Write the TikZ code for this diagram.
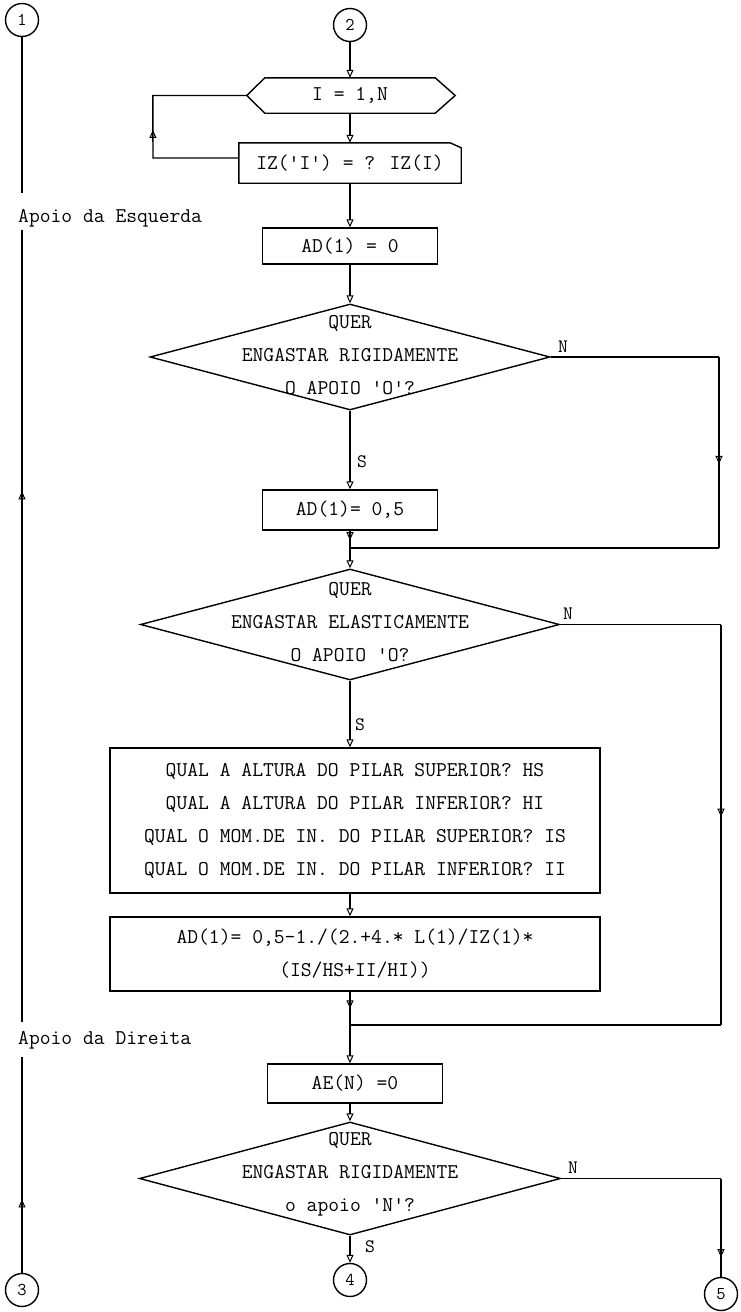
\documentclass[tikz,border=0pt]{standalone}
\usepackage{fontspec}
\usetikzlibrary{arrows.meta,decorations.markings,shapes.geometric}
\tikzset{
  flow/.style={line width=1.4pt},
  endtip/.style={-{Triangle[open,length=8pt,width=7pt,line width=1pt]}},
  midtip/.style={postaction={decorate},decoration={markings,
      mark=at position #1 with {\arrow{Triangle[open,length=8pt,width=7pt,line width=1pt]}}}},
  txt/.style={font=\ttfamily\fontsize{21}{33}\selectfont, inner sep=0pt, align=center},
  lbl/.style={font=\ttfamily\fontsize{19}{19}\selectfont, inner sep=0pt},
  procbox/.style={txt, draw, line width=1.4pt},
  conn/.style={circle, draw, line width=1.4pt, minimum size=33pt, inner sep=0pt,
      font=\ttfamily\fontsize{18}{18}\selectfont},
  decision/.style={diamond, draw, line width=1.4pt, inner sep=0pt, aspect=1},
}
\begin{document}
\begin{tikzpicture}[x=1pt,y=-1pt]
\useasboundingbox (0,0) rectangle (740,1312);
\fill[white] (0,0) rectangle (740,1312);

% off-page connectors
\node[conn] (c1) at (22,20) {1};
\node[conn] (c2) at (350,25) {2};
\node[conn] (c3) at (22,1290) {3};
\node[conn] (c4) at (350,1280) {4};
\node[conn] (c5) at (721,1294) {5};

% loop header (hexagon)
\node[txt, minimum width=170pt, minimum height=35pt] (hex) at (350,95.5) {I = 1,N};
\draw[flow] (hex.north west) -- (hex.north east) -- ([xshift=20pt]hex.east)
  -- (hex.south east) -- (hex.south west) -- ([xshift=-18pt]hex.west) -- cycle;
\coordinate (hexL) at ([xshift=-18pt]hex.west);

% input of the inertia values
\node[txt, minimum width=222pt, minimum height=40pt] (iz) at (350,163) {IZ('I') = ? IZ(I)};
\draw[flow] (iz.north west) -- ([xshift=-11pt]iz.north east) -- ([yshift=-5pt]iz.north east)
  -- (iz.south east) -- (iz.south west) -- cycle;

% loop return
\coordinate (lpb) at (153,158);
\path (hexL) ++(-94,0) coordinate (lpt);
\draw[flow, midtip=0.47] ([yshift=5pt]iz.west) -- (lpb) -- (lpt) -- (hexL);

\draw[flow,endtip] (c2) -- (hex);
\draw[flow,endtip] (hex) -- (iz);

% left support
\node[procbox, minimum width=175pt, minimum height=36pt] (ad0) at (350,246) {AD(1) = 0};
\draw[flow,endtip] (iz) -- (ad0);

\node[decision, minimum width=400pt, minimum height=106pt] (d1) at (350,357) {};
\node[txt] (d1t) at (350,355) {QUER\\ENGASTAR RIGIDAMENTE\\O APOIO 'O'?};
\draw[flow,endtip] (ad0) -- (d1);

\node[lbl] (n1) at (563,347) {N};
\coordinate (r1t) at (719,357);
\coordinate (r1b) at (719,548);
\coordinate (j1) at (350,548);
\draw[flow] (d1.east) -- (r1t);
\draw[flow, midtip=0.56] (r1t) -- (r1b);
\draw[flow] (r1b) -- (j1);

\node[lbl] (s1) at (362,462) {S};
\node[procbox, minimum width=175pt, minimum height=40pt] (ad5) at (350,510) {AD(1)= 0,5};
\draw[flow,endtip] (d1) -- (ad5);
\draw[flow, midtip=0.55] (ad5) -- (j1);

\node[decision, minimum width=419pt, minimum height=111pt] (d2) at (350,624.5) {};
\node[txt] (d2t) at (350,622) {QUER\\ENGASTAR ELASTICAMENTE\\O APOIO 'O?};
\draw[flow,endtip] (j1) -- (d2);

\node[lbl] (n2) at (568,614) {N};
\coordinate (r2t) at (721,624.5);
\coordinate (r2b) at (721,1025);
\coordinate (j2) at (350,1025);
\draw[flow] (d2.east) -- (r2t);
\draw[flow, midtip=0.48] (r2t) -- (r2b);
\draw[flow] (r2b) -- (j2);

\node[lbl] (s2) at (360,725) {S};
\node[procbox, minimum width=490pt, minimum height=145pt] (qbox) at (355,820.5)
  {QUAL A ALTURA DO PILAR SUPERIOR? HS\\QUAL A ALTURA DO PILAR INFERIOR? HI\\QUAL O MOM.DE IN. DO PILAR SUPERIOR? IS\\QUAL O MOM.DE IN. DO PILAR INFERIOR? II};
\draw[flow,endtip] (d2.south) -- (d2.south |- qbox.north);

\node[procbox, minimum width=490pt, minimum height=74pt] (fbox) at (355,954)
  {AD(1)= 0,5-1./(2.+4.* L(1)/IZ(1)*\\(IS/HS+II/HI))};
\draw[flow,endtip] (d2.south |- qbox.south) -- (d2.south |- fbox.north);
\draw[flow, midtip=0.5] (d2.south |- fbox.south) -- (j2);

% right support
\node[procbox, minimum width=175pt, minimum height=39pt] (ae) at (355,1083.5) {AE(N) =0};
\draw[flow,endtip] (j2) -- (j2 |- ae.north);

\node[decision, minimum width=421pt, minimum height=113pt] (d3) at (350,1178.5) {};
\node[txt] (d3t) at (350,1174) {QUER\\ENGASTAR RIGIDAMENTE\\o apoio 'N'?};
\draw[flow,endtip] (j2 |- ae.south) -- (d3);

\node[lbl] (n3) at (573,1168) {N};
\coordinate (r3) at (721,1178.5);
\draw[flow] (d3.east) -- (r3);
\draw[flow, midtip=0.8] (r3) -- (c5);

\node[lbl] (s3) at (370,1247) {S};
\draw[flow,endtip] (d3) -- (c4);

% left column: support labels
\node[txt, anchor=west] (apE) at (18,218) {Apoio da Esquerda};
\node[txt, anchor=west] (apD) at (18,1040) {Apoio da Direita};
\coordinate (l1) at (22,193);
\coordinate (l2) at (22,230);
\coordinate (l3) at (22,1022);
\coordinate (l4) at (22,1057);
\draw[flow] (c1) -- (l1);
\draw[flow, midtip=0.67] (l3) -- (l2);
\draw[flow, midtip=0.34] (c3) -- (l4);
\end{tikzpicture}
\end{document}
